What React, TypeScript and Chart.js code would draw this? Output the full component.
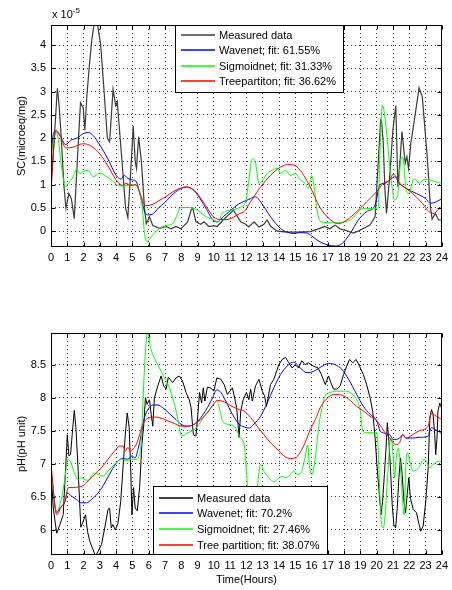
import React, { useEffect, useRef } from 'react';
import { Chart, registerables } from 'chart.js';

Chart.register(...registerables);

const FONT = "'Liberation Sans', Arial, Helvetica, sans-serif";

// ---------- axes ----------
const hourTicks = [0, 1, 2, 3, 4, 5, 6, 7, 8, 9, 10, 11, 12, 13, 14, 15, 16, 17, 18, 19, 20, 21, 22, 23, 24];
const scTicks = [0, 0.5, 1, 1.5, 2, 2.5, 3, 3.5, 4];
const phTicks = [6, 6.5, 7, 7.5, 8, 8.5];

const scLegend = ['Measured data', 'Wavenet; fit: 61.55%', 'Sigmoidnet; fit: 31.33%', 'Treepartiton; fit: 36.62%'];
const phLegend = ['Measured data', 'Wavenet; fit: 70.2%', 'Sigmoidnet; fit: 27.46%', 'Tree partition; fit: 38.07%'];

// ---------- SC (x 10^-5 microeq/mg) ----------
const scMeasT = [0, 0.2, 0.39, 0.5, 0.6, 0.8, 0.92, 1.1, 1.25, 1.43, 1.6, 1.81, 1.98, 2.08, 2.2, 2.34, 2.5, 2.65, 2.85, 3.05, 3.26, 3.46, 3.6, 3.81, 3.97, 4.07, 4.2, 4.36, 4.58, 4.72, 4.88, 5.05, 5.17, 5.25, 5.38, 5.55, 5.74, 5.85, 6.05, 6.25, 6.66, 7.07, 7.37, 7.68, 7.98, 8.39, 8.6, 8.7, 8.9, 9.2, 9.4, 9.7, 10.0, 10.2, 10.6, 10.9, 11.2, 11.65, 11.95, 12.15, 12.46, 12.77, 13.07, 13.27, 13.5, 13.89, 14.5, 15.1, 15.92, 16.5, 16.8, 17.1, 17.45, 17.75, 18.16, 18.57, 18.97, 19.58, 19.9, 20.1, 20.24, 20.3, 20.4, 20.5, 20.6, 20.8, 21.0, 21.17, 21.3, 21.45, 21.55, 21.75, 21.85, 21.95, 22.1, 22.4, 22.6, 22.8, 23.1, 23.3, 23.4, 23.6, 23.8, 24];
const scMeas = [1.0, 2.0, 3.07, 2.7, 2.17, 0.95, 0.49, 0.81, 0.7, 0.27, 1.4, 2.76, 2.65, 2.17, 2.9, 3.5, 4.1, 4.46, 4.46, 4.0, 3.0, 2.0, 1.92, 3.05, 2.7, 2.78, 2.2, 1.5, 0.5, 0.29, 1.2, 2.26, 1.5, 1.35, 2.03, 1.5, 0.5, 0.16, 0.31, 0.12, 0.06, 0.1, 0.05, 0.1, 0.05, 0.2, 0.45, 0.5, 0.2, 0.15, 0.2, 0.1, 0.12, 0.1, 0.25, 0.35, 0.45, 0.2, 0.15, 0.09, 0.2, 0.09, 0.15, 0.24, 0.1, 0.0, -0.02, -0.02, -0.01, 0.06, 0.1, 0.05, 0.13, 0.05, 0.01, -0.04, 0.02, 0.13, 0.31, 1.53, 2.39, 2.35, 1.9, 0.9, 0.38, 1.2, 2.2, 2.7, 0.95, 1.6, 2.14, 1.46, 1.6, 1.35, 1.9, 2.6, 3.08, 2.88, 1.6, 0.5, 0.26, 0.38, 0.24, 0.24];

const scWaveT = [0, 0.15, 0.3, 0.6, 0.9, 1.2, 1.6, 2.0, 2.3, 2.6, 3.0, 3.5, 4.0, 4.3, 4.5, 4.7, 5.0, 5.2, 5.5, 5.8, 6.0, 6.3, 6.6, 7.0, 7.5, 8.0, 8.3, 8.7, 9.0, 9.5, 10.0, 10.2, 10.6, 11.04, 11.5, 11.85, 12.25, 12.56, 12.87, 13.2, 13.48, 14.09, 14.5, 14.9, 15.3, 15.7, 16.0, 16.33, 16.7, 17.04, 17.45, 17.86, 18.1, 18.37, 18.87, 19.38, 19.9, 20.2, 20.5, 20.8, 21.1, 21.4, 21.8, 22.43, 23.0, 23.3, 23.65, 24];
const scWave = [1.55, 2.1, 2.15, 2.02, 1.86, 1.95, 2.0, 2.1, 2.12, 2.05, 1.85, 1.55, 1.2, 1.12, 1.2, 1.14, 1.1, 1.08, 0.75, 0.38, 0.35, 0.38, 0.5, 0.62, 0.8, 0.92, 0.95, 0.9, 0.78, 0.5, 0.22, 0.2, 0.32, 0.45, 0.58, 0.64, 0.7, 0.74, 0.63, 0.46, 0.31, 0.06, -0.02, -0.05, -0.03, -0.04, -0.1, -0.19, -0.26, -0.3, -0.32, -0.27, -0.18, -0.05, 0.24, 0.42, 0.56, 1.0, 1.03, 1.1, 1.17, 1.03, 0.92, 0.81, 0.7, 0.6, 0.63, 0.7];

const scSigT = [0, 0.3, 0.45, 0.65, 0.9, 1.06, 1.36, 1.57, 1.77, 1.98, 2.28, 2.59, 3.0, 3.3, 3.7, 4.3, 4.83, 5.13, 5.34, 5.54, 5.64, 5.74, 5.9, 6.15, 6.66, 7.17, 7.47, 7.78, 7.94, 8.4, 9.0, 9.4, 10.0, 10.3, 10.5, 11.04, 11.65, 11.95, 12.15, 12.36, 12.56, 12.77, 12.97, 13.27, 13.58, 13.89, 14.1, 14.4, 14.7, 15.0, 15.3, 15.6, 15.8, 16.0, 16.16, 16.3, 16.57, 17.35, 18.37, 19.18, 19.99, 20.09, 20.2, 20.35, 20.55, 20.76, 20.97, 21.1, 21.3, 21.48, 21.6, 21.78, 21.98, 22.29, 22.6, 22.9, 23.3, 23.6, 24];
const scSig = [1.6, 2.15, 1.96, 1.38, 0.95, 1.02, 1.17, 1.33, 1.24, 1.28, 1.31, 1.17, 1.25, 1.2, 1.1, 0.97, 0.99, 0.99, 0.95, 0.67, 0.38, -0.05, -0.22, -0.12, 0.06, 0.13, 0.16, 0.38, 0.51, 0.51, 0.45, 0.34, 0.24, 0.2, 0.38, 0.45, 0.52, 0.63, 1.1, 1.56, 1.46, 1.03, 1.08, 1.24, 1.31, 1.35, 1.24, 1.31, 1.2, 1.24, 1.1, 1.03, 0.92, 1.2, 0.95, 0.52, 0.2, 0.18, 0.24, 0.49, 0.49, 0.52, 1.74, 2.71, 2.3, 1.53, 0.88, 0.67, 0.81, 1.53, 1.6, 0.95, 0.81, 1.13, 1.03, 1.11, 1.1, 1.06, 1.03];

const scTreeT = [0, 0.3, 0.6, 0.9, 1.3, 2.0, 2.5, 3.0, 3.5, 4.0, 4.4, 4.6, 4.9, 5.2, 5.5, 5.8, 6.2, 6.6, 7.0, 7.5, 8.0, 8.3, 8.7, 9.0, 9.5, 10.0, 10.4, 10.8, 11.2, 11.6, 11.85, 12.25, 12.87, 13.48, 14.1, 14.5, 14.9, 15.3, 15.6, 15.92, 16.5, 17.14, 17.65, 18.16, 18.77, 19.38, 20.0, 20.4, 20.8, 21.0, 21.2, 21.4, 21.8, 22.2, 22.8, 23.2, 23.5, 23.8, 24];
const scTree = [0.88, 2.17, 2.03, 1.79, 1.8, 1.88, 1.82, 1.66, 1.4, 1.1, 0.98, 1.03, 0.98, 1.0, 0.78, 0.55, 0.57, 0.65, 0.73, 0.85, 0.93, 0.95, 0.9, 0.8, 0.55, 0.3, 0.25, 0.25, 0.3, 0.38, 0.42, 0.63, 0.95, 1.2, 1.38, 1.43, 1.42, 1.31, 1.15, 0.95, 0.52, 0.25, 0.16, 0.24, 0.42, 0.63, 0.85, 1.03, 1.1, 1.22, 1.17, 1.03, 0.92, 0.81, 0.6, 0.42, 0.38, 0.47, 0.52];

// ---------- pH ----------
const phMeasT = [0, 0.14, 0.35, 0.55, 0.75, 0.9, 1.0, 1.1, 1.2, 1.3, 1.43, 1.53, 1.67, 1.83, 1.98, 2.12, 2.24, 2.38, 2.59, 2.73, 2.9, 3.1, 3.3, 3.5, 3.6, 3.7, 3.8, 3.95, 4.11, 4.28, 4.42, 4.56, 4.68, 4.8, 4.89, 4.97, 5.07, 5.17, 5.3, 5.44, 5.58, 5.7, 5.8, 5.9, 6.05, 6.15, 6.25, 6.35, 6.56, 6.76, 6.92, 7.07, 7.2, 7.47, 7.68, 7.88, 8.08, 8.29, 8.49, 8.6, 8.74, 8.9, 9.0, 9.12, 9.25, 9.35, 9.45, 9.6, 9.8, 10.0, 10.18, 10.43, 10.63, 10.83, 11.14, 11.4, 11.55, 11.65, 11.8, 12.0, 12.15, 12.26, 12.36, 12.56, 12.77, 12.97, 13.11, 13.23, 13.48, 13.68, 13.99, 14.19, 14.4, 14.6, 14.8, 15.0, 15.2, 15.4, 15.6, 15.8, 16.1, 16.4, 16.6, 16.84, 17.04, 17.18, 17.35, 17.55, 17.76, 17.96, 18.16, 18.33, 18.53, 18.73, 18.94, 19.18, 19.38, 19.59, 19.75, 19.9, 20.04, 20.16, 20.26, 20.36, 20.47, 20.57, 20.65, 20.75, 20.85, 20.95, 21.05, 21.16, 21.26, 21.36, 21.46, 21.56, 21.67, 21.77, 21.87, 21.97, 22.07, 22.24, 22.44, 22.6, 22.7, 22.85, 23.01, 23.16, 23.26, 23.36, 23.46, 23.56, 23.62, 23.7, 23.76, 23.87, 23.97, 24];
const phMeas = [6.9, 6.33, 5.95, 6.08, 6.23, 6.94, 7.44, 7.12, 7.14, 7.44, 7.81, 7.55, 6.89, 6.04, 6.13, 6.23, 5.98, 5.83, 5.7, 5.6, 5.68, 5.78, 6.03, 6.31, 6.33, 6.03, 6.08, 6.0, 6.1, 6.43, 6.94, 7.44, 7.77, 7.55, 6.94, 6.23, 6.64, 6.33, 6.29, 6.64, 7.29, 7.6, 8.0, 7.9, 7.97, 7.75, 7.57, 8.0, 8.18, 8.33, 8.18, 8.13, 8.31, 8.23, 8.3, 8.33, 8.25, 8.08, 7.97, 7.85, 7.44, 7.42, 7.7, 8.08, 7.92, 8.15, 7.95, 8.16, 8.15, 8.1, 8.3, 8.28, 8.2, 8.05, 8.15, 7.85, 7.4, 7.8, 7.97, 8.08, 7.97, 8.13, 7.95, 8.18, 8.28, 8.1, 8.03, 7.87, 8.2, 8.28, 8.5, 8.58, 8.61, 8.53, 8.45, 8.5, 8.45, 8.56, 8.5, 8.53, 8.48, 8.45, 8.35, 8.2, 8.33, 8.23, 8.13, 8.13, 8.18, 8.35, 8.48, 8.58, 8.53, 8.58, 8.48, 8.35, 8.2, 8.0, 7.8, 7.39, 6.89, 6.54, 6.23, 6.43, 6.84, 7.24, 7.62, 7.34, 6.89, 6.38, 6.08, 6.03, 6.33, 6.79, 7.09, 6.84, 6.43, 6.26, 6.54, 6.79, 6.48, 6.31, 6.26, 6.08, 5.98, 6.06, 6.43, 6.94, 7.7, 7.82, 7.75, 7.44, 7.14, 7.39, 7.8, 7.92, 7.85, 7.97];

const phWaveT = [0, 0.35, 0.55, 0.86, 1.0, 1.26, 1.57, 1.87, 2.18, 2.48, 2.9, 3.3, 3.7, 4.1, 4.4, 4.72, 4.97, 5.17, 5.34, 5.54, 5.74, 5.95, 6.25, 6.56, 6.86, 7.27, 7.68, 7.98, 8.4, 8.8, 9.2, 9.6, 9.92, 10.18, 10.43, 10.73, 11.14, 11.55, 11.85, 12.15, 12.46, 12.87, 13.27, 13.68, 14.09, 14.5, 14.9, 15.3, 15.72, 16.13, 16.53, 17.04, 17.45, 17.86, 18.27, 18.77, 19.18, 19.59, 20.0, 20.2, 20.4, 20.6, 20.8, 21.0, 21.2, 21.4, 21.6, 21.8, 22.2, 22.6, 23.15, 23.36, 23.56, 23.87, 24];
const phWave = [6.9, 6.26, 6.33, 6.43, 6.56, 6.51, 6.46, 6.41, 6.41, 6.46, 6.56, 6.71, 6.89, 7.04, 7.08, 7.07, 7.12, 7.09, 7.22, 7.44, 7.7, 7.82, 7.89, 7.89, 7.85, 7.76, 7.67, 7.6, 7.57, 7.6, 7.7, 7.85, 8.0, 8.12, 8.08, 7.95, 7.75, 7.6, 7.56, 7.54, 7.6, 7.72, 7.92, 8.15, 8.35, 8.48, 8.54, 8.45, 8.38, 8.4, 8.46, 8.52, 8.5, 8.43, 8.28, 8.05, 7.87, 7.75, 7.65, 7.5, 7.47, 7.45, 7.44, 7.37, 7.37, 7.39, 7.44, 7.39, 7.39, 7.4, 7.42, 7.55, 7.52, 7.48, 7.45];

const phSigT = [0, 0.35, 0.65, 0.86, 1.02, 1.22, 1.47, 1.67, 1.87, 2.08, 2.28, 2.48, 2.65, 2.9, 3.2, 3.5, 3.9, 4.3, 4.62, 4.93, 5.23, 5.44, 5.54, 5.64, 5.74, 5.85, 5.93, 6.11, 6.35, 6.66, 6.97, 7.27, 7.47, 7.68, 7.88, 8.02, 8.4, 8.8, 9.1, 9.4, 9.82, 10.18, 10.33, 10.53, 10.83, 11.24, 11.65, 11.85, 12.0, 12.15, 12.4, 12.6, 12.87, 13.07, 13.38, 13.68, 13.89, 14.2, 14.4, 14.7, 14.9, 15.1, 15.35, 15.58, 15.76, 15.86, 16.02, 16.23, 16.43, 16.64, 16.84, 17.14, 17.55, 17.96, 18.37, 18.77, 18.98, 19.14, 19.35, 20.0, 20.1, 20.2, 20.3, 20.4, 20.5, 20.6, 20.7, 20.8, 20.9, 21.0, 21.1, 21.2, 21.32, 21.46, 21.58, 21.68, 21.78, 21.88, 22.03, 22.24, 22.44, 22.64, 22.85, 23.05, 23.26, 23.46, 23.76, 24];
const phSig = [6.9, 6.28, 6.48, 6.79, 7.07, 7.02, 6.84, 6.76, 6.79, 6.76, 6.75, 6.81, 6.86, 6.84, 6.81, 6.89, 6.99, 7.07, 7.05, 7.07, 7.07, 7.14, 7.34, 7.9, 8.45, 8.86, 9.02, 8.76, 8.6, 8.45, 8.3, 8.15, 8.0, 7.8, 7.55, 7.42, 7.47, 7.52, 7.6, 7.72, 7.85, 7.95, 7.85, 7.65, 7.6, 7.57, 7.39, 7.3, 6.89, 6.3, 6.2, 6.5, 6.99, 6.89, 6.79, 6.73, 6.76, 6.81, 6.79, 6.84, 6.89, 6.84, 6.86, 7.07, 7.29, 6.99, 6.84, 7.09, 7.55, 7.85, 8.03, 8.08, 8.1, 8.1, 8.08, 7.97, 7.82, 7.5, 7.47, 7.47, 7.14, 6.48, 6.08, 6.03, 6.18, 6.54, 6.94, 7.29, 7.39, 7.14, 6.79, 7.09, 7.24, 6.94, 6.48, 6.23, 6.94, 7.17, 7.04, 6.89, 6.91, 6.96, 7.07, 7.04, 6.94, 6.99, 7.04, 7.03];

const phTreeT = [0, 0.35, 0.65, 0.86, 1.06, 1.36, 1.67, 1.98, 2.28, 2.69, 3.1, 3.5, 3.9, 4.22, 4.42, 4.56, 4.72, 4.89, 5.03, 5.23, 5.44, 5.64, 5.95, 6.35, 6.76, 7.17, 7.58, 7.98, 8.4, 8.8, 9.2, 9.6, 10.0, 10.22, 10.63, 11.04, 11.55, 11.85, 12.26, 12.66, 13.07, 13.48, 13.89, 14.3, 14.7, 15.0, 15.3, 15.6, 15.92, 16.23, 16.53, 16.84, 17.14, 17.55, 17.96, 18.37, 18.77, 19.18, 19.59, 20.0, 20.3, 20.6, 20.8, 21.0, 21.2, 21.4, 21.6, 21.8, 22.2, 22.6, 23.15, 23.36, 23.66, 24];
const phTree = [7.0, 6.23, 6.36, 6.43, 6.64, 6.64, 6.65, 6.67, 6.74, 6.84, 6.94, 7.07, 7.19, 7.27, 7.27, 7.19, 7.25, 7.19, 7.22, 7.29, 7.44, 7.6, 7.69, 7.71, 7.69, 7.65, 7.61, 7.57, 7.57, 7.6, 7.67, 7.77, 7.91, 7.96, 7.94, 7.88, 7.82, 7.8, 7.7, 7.57, 7.44, 7.32, 7.22, 7.12, 7.08, 7.09, 7.17, 7.32, 7.52, 7.67, 7.85, 7.96, 8.03, 8.05, 8.03, 7.96, 7.87, 7.8, 7.72, 7.65, 7.55, 7.44, 7.39, 7.32, 7.29, 7.32, 7.44, 7.39, 7.44, 7.5, 7.57, 7.76, 7.72, 7.67];

// ---------- helpers ----------
function pts(t: number[], v: number[]) {
  return t.map((x, i) => ({ x, y: v[i] }));
}

function makeDecor(cfg: any) {
  return {
    id: 'matlabDecor',
    afterDatasetsDraw(chart: any) {
      const ctx = chart.ctx as CanvasRenderingContext2D;
      const a = chart.chartArea;
      const xs = chart.scales.x;
      const ys = chart.scales.y;
      ctx.save();
      ctx.setLineDash([]);
      // axes box
      ctx.strokeStyle = '#000';
      ctx.lineWidth = 1;
      const l = Math.round(a.left) + 0.5;
      const t = Math.round(a.top) + 0.5;
      const r = Math.round(a.right) - 0.5;
      const b = Math.round(a.bottom) - 0.5;
      ctx.strokeRect(l, t, r - l, b - t);

      // inward tick marks (MATLAB style)
      const tl = 4;
      ctx.beginPath();
      xs.ticks.forEach((tk: any) => {
        const px = Math.round(xs.getPixelForValue(tk.value)) + 0.5;
        ctx.moveTo(px, b);
        ctx.lineTo(px, b - tl);
        ctx.moveTo(px, t);
        ctx.lineTo(px, t + tl);
      });
      ys.ticks.forEach((tk: any) => {
        const py = Math.round(ys.getPixelForValue(tk.value)) + 0.5;
        ctx.moveTo(l, py);
        ctx.lineTo(l + tl, py);
        ctx.moveTo(r, py);
        ctx.lineTo(r - tl, py);
      });
      ctx.stroke();

      // legend
      const lg = cfg.legend;
      if (lg) {
        ctx.fillStyle = '#fff';
        ctx.fillRect(lg.x, lg.y, lg.w, lg.h);
        ctx.strokeStyle = '#000';
        ctx.lineWidth = 1;
        ctx.strokeRect(lg.x + 0.5, lg.y + 0.5, lg.w - 1, lg.h - 1);
        ctx.font = `11px ${FONT}`;
        ctx.textBaseline = 'middle';
        ctx.textAlign = 'left';
        for (let i = 0; i < lg.labels.length; i++) {
          const cy = Math.round(lg.y + lg.rowStart + i * lg.rowGap);
          ctx.strokeStyle = lg.colors[i];
          ctx.lineWidth = lg.widths[i];
          ctx.beginPath();
          ctx.moveTo(lg.x + 6, cy);
          ctx.lineTo(lg.x + 40, cy);
          ctx.stroke();
          ctx.fillStyle = '#000';
          ctx.fillText(lg.labels[i], lg.x + 44, cy + 0.5);
        }
      }

      // axis titles
      ctx.fillStyle = '#000';
      ctx.font = `11px ${FONT}`;
      if (cfg.yTitle) {
        ctx.save();
        ctx.translate(cfg.yTitle.x, (a.top + a.bottom) / 2);
        ctx.rotate(-Math.PI / 2);
        ctx.textAlign = 'center';
        ctx.textBaseline = 'middle';
        ctx.fillText(cfg.yTitle.text, 0, 0);
        ctx.restore();
      }
      if (cfg.xTitle) {
        ctx.textAlign = 'center';
        ctx.textBaseline = 'middle';
        ctx.fillText(cfg.xTitle.text, (a.left + a.right) / 2, cfg.xTitle.y);
      }
      if (cfg.exponent) {
        ctx.textAlign = 'left';
        ctx.textBaseline = 'alphabetic';
        ctx.font = `11px ${FONT}`;
        ctx.fillText(cfg.exponent.base, a.left + 1, cfg.exponent.y);
        const w = ctx.measureText(cfg.exponent.base).width;
        ctx.font = `8px ${FONT}`;
        ctx.fillText(cfg.exponent.power, a.left + 1 + w, cfg.exponent.y - 5);
      }
      ctx.restore();
    },
  };
}

function buildConfig(p: any): any {
  const tickFont = { family: FONT, size: 11 };
  const gridColor = 'rgba(0,0,0,0.8)';
  return {
    type: 'line',
    data: {
      datasets: p.series.map((s: any) => ({
        label: s.label,
        data: pts(s.t, s.v),
        borderColor: s.color,
        borderWidth: s.width,
        pointRadius: 0,
        fill: false,
        tension: s.smooth ? 0.4 : 0,
        cubicInterpolationMode: s.smooth ? 'monotone' : 'default',
        order: s.order,
      })),
    },
    options: {
      responsive: false,
      animation: false,
      devicePixelRatio: 1,
      events: [],
      layout: { padding: { left: 0, right: 8, top: p.areaTop, bottom: 0 } },
      plugins: {
        legend: { display: false },
        tooltip: { enabled: false },
        title: { display: false },
      },
      scales: {
        x: {
          type: 'linear',
          min: 0,
          max: 24,
          afterBuildTicks: (s: any) => {
            s.ticks = hourTicks.map((v) => ({ value: v }));
          },
          afterFit: (s: any) => {
            s.height = p.canvasH - p.areaBottom;
          },
          grid: { color: gridColor, lineWidth: 1, drawTicks: false, tickLength: 0 },
          border: { display: false, dash: [1, 3] },
          ticks: {
            autoSkip: false,
            maxRotation: 0,
            minRotation: 0,
            padding: 4,
            color: '#000',
            font: tickFont,
            callback: (v: any) => String(v),
          },
        },
        y: {
          type: 'linear',
          min: p.yMin,
          max: p.yMax,
          afterBuildTicks: (s: any) => {
            s.ticks = p.yTicks.map((v: number) => ({ value: v }));
          },
          afterFit: (s: any) => {
            s.width = 51;
          },
          grid: { color: gridColor, lineWidth: 1, drawTicks: false, tickLength: 0 },
          border: { display: false, dash: [1, 3] },
          ticks: {
            padding: 5,
            color: '#000',
            font: tickFont,
            callback: (v: any) => String(v),
          },
        },
      },
    },
    plugins: [makeDecor(p.decor)],
  };
}

export default function App() {
  const topRef = useRef<HTMLCanvasElement>(null);
  const botRef = useRef<HTMLCanvasElement>(null);

  useEffect(() => {
    document.body.style.margin = '0';
    const measuredTop = '#3a3a3a';
    const c1 = new Chart(
      topRef.current as HTMLCanvasElement,
      buildConfig({
        canvasH: 270,
        areaTop: 25,
        areaBottom: 247,
        yMin: -0.34,
        yMax: 4.43,
        yTicks: scTicks,
        series: [
          { label: scLegend[0], t: scMeasT, v: scMeas, color: measuredTop, width: 1.2, smooth: false, order: 3 },
          { label: scLegend[1], t: scWaveT, v: scWave, color: '#0000ff', width: 1, smooth: true, order: 2 },
          { label: scLegend[2], t: scSigT, v: scSig, color: '#00ff00', width: 1, smooth: true, order: 1 },
          { label: scLegend[3], t: scTreeT, v: scTree, color: '#ff0000', width: 1, smooth: true, order: 0 },
        ],
        decor: {
          legend: {
            x: 175, y: 25, w: 169, h: 68, rowStart: 9.5, rowGap: 15.6,
            labels: scLegend,
            colors: ['#6e6e6e', '#0000ff', '#00ff00', '#ff0000'],
            widths: [2, 1.6, 1.6, 1.6],
          },
          yTitle: { text: 'SC(microeq/mg)', x: 22 },
          exponent: { base: 'x 10', power: '-5', y: 18 },
        },
      })
    );
    const c2 = new Chart(
      botRef.current as HTMLCanvasElement,
      buildConfig({
        canvasH: 290,
        areaTop: 33,
        areaBottom: 255,
        yMin: 5.62,
        yMax: 8.98,
        yTicks: phTicks,
        series: [
          { label: phLegend[0], t: phMeasT, v: phMeas, color: '#000000', width: 1, smooth: false, order: 3 },
          { label: phLegend[1], t: phWaveT, v: phWave, color: '#0000ff', width: 1, smooth: true, order: 2 },
          { label: phLegend[2], t: phSigT, v: phSig, color: '#00ff00', width: 1, smooth: true, order: 1 },
          { label: phLegend[3], t: phTreeT, v: phTree, color: '#ff0000', width: 1, smooth: true, order: 0 },
        ],
        decor: {
          legend: {
            x: 153, y: 186, w: 175, h: 69, rowStart: 11.5, rowGap: 15.8,
            labels: phLegend,
            colors: ['#000000', '#0000ff', '#00ff00', '#ff0000'],
            widths: [1.6, 1.6, 1.6, 1.6],
          },
          yTitle: { text: 'pH(pH unit)', x: 22 },
          xTitle: { text: 'Time(Hours)', y: 280 },
        },
      })
    );
    return () => {
      c1.destroy();
      c2.destroy();
    };
  }, []);

  return (
    <div style={{ position: 'relative', width: 452, height: 590, background: '#fff' }}>
      <canvas ref={topRef} width={452} height={270} style={{ position: 'absolute', left: 0, top: 0 }} />
      <canvas ref={botRef} width={452} height={290} style={{ position: 'absolute', left: 0, top: 300 }} />
    </div>
  );
}
